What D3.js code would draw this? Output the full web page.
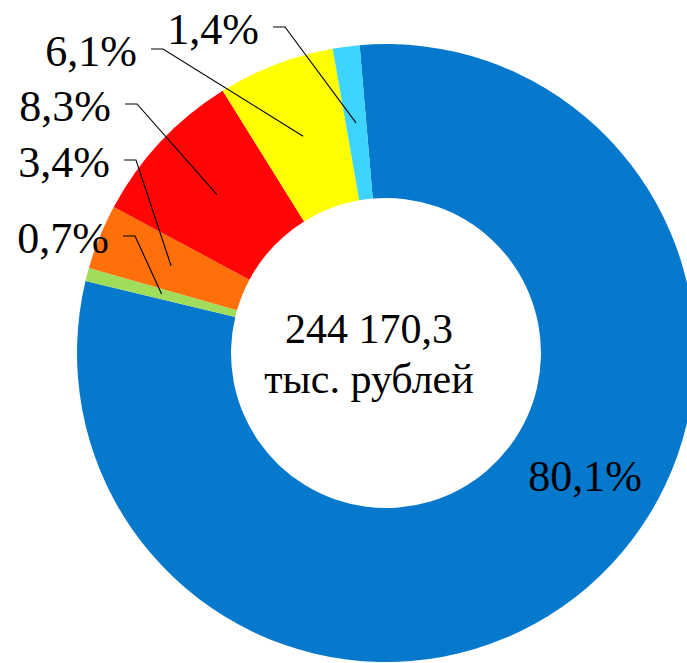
<!DOCTYPE html>
<html>
<head>
<meta charset="utf-8">
<script src="https://cdn.jsdelivr.net/npm/d3@7"></script>
<style>
  body { margin: 0; background: #fff; }
</style>
</head>
<body>
<script>
// data, in drawing order (clockwise)
var shares = [80.1, 0.7, 3.4, 8.3, 6.1, 1.4];
var labels = ['80,1%', '0,7%', '3,4%', '8,3%', '6,1%', '1,4%'];
var colors = ['#0779cd', '#a0dd5a', '#ff700a', '#ff0505', '#ffff00', '#3dd5ff'];
var totalText = ['244 170,3', 'тыс. рублей'];

// where the dragged labels sit (elbow of leader line), null = label inside slice
var labelPos = [null, [135, 236], [136, 160], [137, 104], [163, 49], [285, 27]];

var width = 687;
var height = 663;
var cx = 386, cy = 353;
var outerR = 309;
var innerR = 155;
var font = "'Liberation Serif', Tinos, 'Times New Roman', 'DejaVu Serif'";

var svg = d3.select('body')
  .append('svg')
  .attr('width', width)
  .attr('height', height)
  .attr('font-family', font);

var g = svg.append('g')
  .attr('transform', 'translate(' + cx + ',' + cy + ')');

// first slice angle ~355 deg
var start = -4.9 * Math.PI / 180;
var pie = d3.pie()
  .sort(null)
  .value(d => d)
  .startAngle(start)
  .endAngle(start + 2 * Math.PI);

var arc = d3.arc()
  .innerRadius(innerR)
  .outerRadius(outerR);

var arcs = pie(shares);

g.selectAll('path.slice')
  .data(arcs)
  .enter()
  .append('path')
  .attr('class', 'slice')
  .attr('fill', (d, i) => colors[i])
  .attr('d', arc);

// leader lines: label -> short horizontal -> slice centroid
var leaders = svg.append('g');
arcs.forEach(function(d, i) {
  var p = labelPos[i];
  if (!p) return;
  var c = arc.centroid(d);
  var end = [cx + c[0], cy + c[1]];
  leaders.append('polyline')
    .attr('points', [[p[0] - 12, p[1]], p, end].map(q => q.join(',')).join(' '))
    .attr('fill', 'none')
    .attr('stroke', '#000')
    .attr('stroke-width', 1.1);
  leaders.append('text')
    .attr('x', p[0] - 26)
    .attr('y', p[1] + 17)
    .attr('text-anchor', 'end')
    .attr('font-family', font)
    .attr('font-size', 44)
    .text(labels[i]);
});

// big slice label sits inside the ring
svg.append('text')
  .attr('x', 585)
  .attr('y', 491)
  .attr('text-anchor', 'middle')
  .attr('font-family', font)
  .attr('font-size', 44)
  .text(labels[0]);

// total in the hole
svg.append('g')
  .selectAll('text')
  .data(totalText)
  .enter()
  .append('text')
  .attr('x', cx - 17)
  .attr('y', (d, i) => cy - 10 + i * 50)
  .attr('text-anchor', 'middle')
  .attr('font-family', font)
  .attr('font-size', 42)
  .text(d => d);
</script>
</body>
</html>
